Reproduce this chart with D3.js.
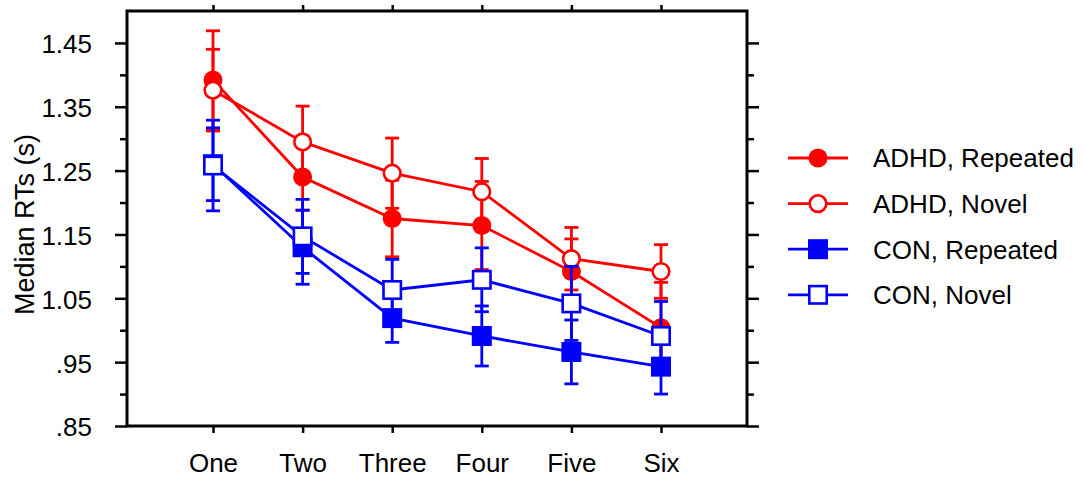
<!DOCTYPE html>
<html>
<head>
<meta charset="utf-8">
<script src="https://cdn.jsdelivr.net/npm/d3@7/dist/d3.min.js"></script>
<style>
  html, body { margin: 0; padding: 0; background: #fff; }
  text { font-family: "Liberation Sans", Arial, Helvetica, sans-serif; fill: #000; }
</style>
</head>
<body>
<svg id="chart" width="1085" height="481"></svg>
<script>
const categories = ["One", "Two", "Three", "Four", "Five", "Six"];

const adhdRepeated    = [1.392, 1.240, 1.175, 1.164, 1.092, 1.004];
const adhdRepeatedErr = [0.077, 0.052, 0.060, 0.069, 0.051, 0.071];
const adhdNovel       = [1.376, 1.295, 1.246, 1.217, 1.112, 1.092];
const adhdNovelErr    = [0.064, 0.056, 0.055, 0.052, 0.049, 0.042];
const conRepeated     = [1.260, 1.130, 1.019, 0.991, 0.966, 0.943];
const conRepeatedErr  = [0.057, 0.058, 0.038, 0.047, 0.050, 0.043];
const conNovel        = [1.258, 1.147, 1.063, 1.079, 1.042, 0.991];
const conNovelErr     = [0.071, 0.058, 0.048, 0.050, 0.058, 0.054];

const seriesNames = ["ADHD, Repeated", "ADHD, Novel", "CON, Repeated", "CON, Novel"];

const yTickValues  = [0.85, 0.95, 1.05, 1.15, 1.25, 1.35, 1.45];
const yTickLabels  = [".85", ".95", "1.05", "1.15", "1.25", "1.35", "1.45"];
const yMinorValues = [0.90, 1.00, 1.10, 1.20, 1.30, 1.40];
const yLabel = "Median RTs (s)";

(function () {
const pL = 127, pR = 747, pT = 11, pB = 426;
const RED = "#ff0000", BLUE = "#0000ff";
const series = [
  { name: seriesNames[0], values: adhdRepeated, err: adhdRepeatedErr, color: RED,  shape: "circle", filled: true },
  { name: seriesNames[1], values: adhdNovel,    err: adhdNovelErr,    color: RED,  shape: "circle", filled: false },
  { name: seriesNames[2], values: conRepeated,  err: conRepeatedErr,  color: BLUE, shape: "square", filled: true },
  { name: seriesNames[3], values: conNovel,     err: conNovelErr,     color: BLUE, shape: "square", filled: false }
];

const svg = d3.select("#chart");
const x = d3.scalePoint().domain(categories).range([pL, pR]).padding(0.96);
const y = d3.scaleLinear().domain([0.85, 1.50]).range([pB, pT]);

const FS = 26;

function styleTicks(g) {
  g.select(".domain").remove();
  g.selectAll("line").attr("stroke", "#000").attr("stroke-width", 2.5);
}

const gL = svg.append("g").attr("transform", `translate(${pL},0)`)
  .call(d3.axisLeft(y).tickValues(yTickValues).tickSize(12).tickPadding(23)
    .tickFormat((d, i) => yTickLabels[i]));
styleTicks(gL);
gL.selectAll("text").style("font-size", FS + "px").attr("dy", "0.38em");
gL.attr("font-family", null);

const gLm = svg.append("g").attr("transform", `translate(${pL},0)`)
  .call(d3.axisLeft(y).tickValues(yMinorValues).tickSize(7).tickFormat(""));
styleTicks(gLm);

const gR = svg.append("g").attr("transform", `translate(${pR},0)`)
  .call(d3.axisRight(y).tickValues(yTickValues).tickSize(12).tickFormat(""));
styleTicks(gR);
const gRm = svg.append("g").attr("transform", `translate(${pR},0)`)
  .call(d3.axisRight(y).tickValues(yMinorValues).tickSize(7).tickFormat(""));
styleTicks(gRm);

const gT = svg.append("g").attr("transform", `translate(0,${pT})`)
  .call(d3.axisTop(x).tickSize(6).tickFormat(""));
styleTicks(gT);

const gB = svg.append("g").attr("transform", `translate(0,${pB})`)
  .call(d3.axisBottom(x).tickSize(7).tickPadding(21));
styleTicks(gB);
gB.selectAll("text").style("font-size", FS + "px");
gB.attr("font-family", null);

svg.append("rect").attr("x", pL).attr("y", pT)
  .attr("width", pR - pL).attr("height", pB - pT)
  .attr("fill", "none").attr("stroke", "#000").attr("stroke-width", 3);

svg.append("text")
  .attr("transform", `translate(34,${(pT + pB) / 2 + 6}) rotate(-90)`)
  .attr("text-anchor", "middle")
  .style("font-size", "27px")
  .text(yLabel);

const line = d3.line().x((d, i) => x(categories[i])).y(d => y(d));
const R = 9.5, SQ = 19, CAP = 7, SW = 2.8;

function drawMarker(g, cx, cy, s) {
  if (s.shape === "circle") {
    g.append("circle").attr("cx", cx).attr("cy", cy)
      .attr("r", s.filled ? R : R - 1.2)
      .attr("fill", s.filled ? s.color : "#fff")
      .attr("stroke", s.color).attr("stroke-width", s.filled ? 0 : 2.6);
  } else {
    const h = s.filled ? SQ / 2 + 0.5 : SQ / 2 - 0.8;
    g.append("rect").attr("x", cx - h).attr("y", cy - h)
      .attr("width", 2 * h).attr("height", 2 * h)
      .attr("fill", s.filled ? s.color : "#fff")
      .attr("stroke", s.color).attr("stroke-width", s.filled ? 0 : 2.6);
  }
}

series.forEach(s => {
  const g = svg.append("g");
  s.values.forEach((v, i) => {
    const cx = x(categories[i]);
    const y1 = y(v + s.err[i]), y2 = y(v - s.err[i]);
    g.append("line").attr("x1", cx).attr("x2", cx).attr("y1", y1).attr("y2", y2)
      .attr("stroke", s.color).attr("stroke-width", SW);
    [y1, y2].forEach(yy => g.append("line")
      .attr("x1", cx - CAP).attr("x2", cx + CAP).attr("y1", yy).attr("y2", yy)
      .attr("stroke", s.color).attr("stroke-width", SW));
  });
  g.append("path").datum(s.values).attr("d", line)
    .attr("fill", "none").attr("stroke", s.color).attr("stroke-width", SW);
  s.values.forEach((v, i) => drawMarker(g, x(categories[i]), y(v), s));
});

const legX1 = 788, legX2 = 848, legTextX = 873, legY0 = 158, legDy = 45.6;
series.forEach((s, i) => {
  const g = svg.append("g");
  const yy = legY0 + i * legDy;
  g.append("line").attr("x1", legX1).attr("x2", legX2).attr("y1", yy).attr("y2", yy)
    .attr("stroke", s.color).attr("stroke-width", SW);
  drawMarker(g, (legX1 + legX2) / 2, yy, s);
  g.append("text").attr("x", legTextX).attr("y", yy).attr("dy", "0.36em")
    .style("font-size", FS + "px").text(s.name);
});
})();
</script>
</body>
</html>
